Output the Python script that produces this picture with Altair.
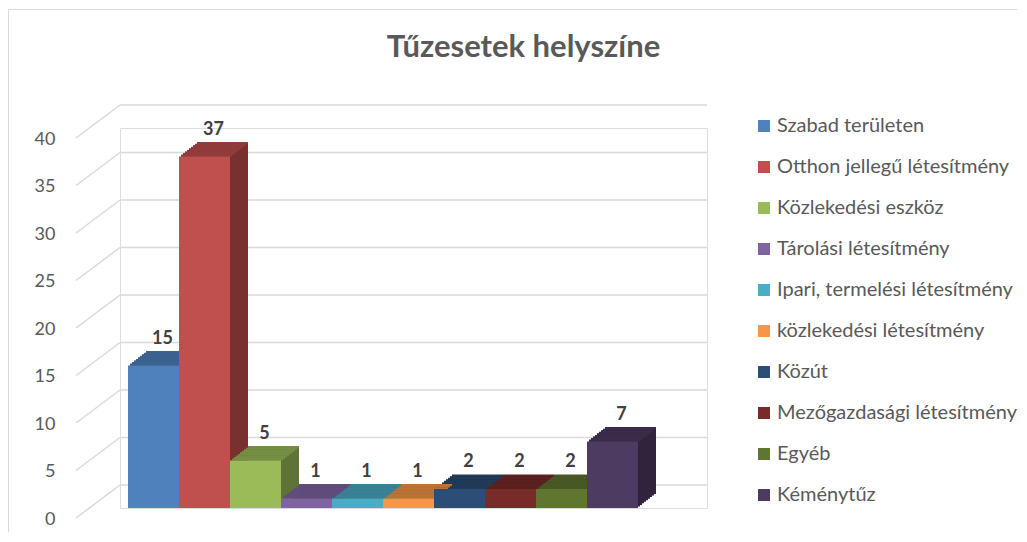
import altair as alt
import pandas as pd

categories = [
    "Szabad területen",
    "Otthon jellegű létesítmény",
    "Közlekedési eszköz",
    "Tárolási létesítmény",
    "Ipari, termelési létesítmény",
    "közlekedési létesítmény",
    "Közút",
    "Mezőgazdasági létesítmény",
    "Egyéb",
    "Kéménytűz",
]
values = [15, 37, 5, 1, 1, 1, 2, 2, 2, 7]
y_ticks = [0, 5, 10, 15, 20, 25, 30, 35, 40]
title_text = "Tűzesetek helyszíne"

front_colors = ["#4F81BD", "#C0504D", "#9BBB59", "#8064A2", "#4BACC6",
                "#F79646", "#2C4D75", "#772C2A", "#5F7530", "#4D3B62"]


def shade(hx, f):
    r, g, b = int(hx[1:3], 16), int(hx[3:5], 16), int(hx[5:7], 16)
    return "#%02X%02X%02X" % (int(r * f), int(g * f), int(b * f))


top_colors = [shade(c, 0.76) for c in front_colors]
side_colors = [shade(c, 0.62) for c in front_colors]

df = pd.DataFrame({"kategoria": categories, "ertek": values})
grid_df = pd.DataFrame({"v": y_ticks})

W, H = 587, 380
DX, DY, N = 18.0, 14.0, 9
FONT = "Lato"
GRID = "#D9D9D9"

xenc = alt.X("kategoria:N", sort=categories,
             scale=alt.Scale(paddingInner=0, paddingOuter=0.755, align=0.104),
             axis=None)
yscale = alt.Scale(domain=[0, 40], nice=False, zero=True)
yaxis = alt.Axis(values=y_ticks, grid=False, domain=False, ticks=False, labelPadding=65,
                 labelOffset=11, labelFont=FONT, labelFontSize=18, labelColor="#595959",
                 title=None)


def yenc(field):
    return alt.Y(field, scale=yscale, axis=yaxis)


layers = []

# outer chart frame (left and top edges; right and bottom lie outside the picture)
frame_top = alt.Chart(grid_df).mark_rule(color=GRID, strokeWidth=1).encode(
    x=alt.value(-112), x2=alt.value(W + 310), y=alt.value(-118.5)
)
frame_left = alt.Chart(grid_df).mark_rule(color=GRID, strokeWidth=1).encode(
    x=alt.value(-112), y=alt.value(-118.5), y2=alt.value(H + 24)
)
layers += [frame_top, frame_left]

# back wall gridlines
back = alt.Chart(grid_df).mark_rule(color=GRID, strokeWidth=1.5, yOffset=-23).encode(
    y=yenc("v:Q"), x=alt.value(0), x2=alt.value(W)
)
layers.append(back)

# side wall gridlines (perspective diagonals)
diag = alt.Chart(grid_df).mark_rule(color=GRID, strokeWidth=1.5, yOffset=10, y2Offset=-23).encode(
    y=yenc("v:Q"), y2="v:Q", x=alt.value(-44), x2=alt.value(0)
)
layers.append(diag)

# side faces (staircase of shifted bars)
for k in range(1, N + 1):
    ox, oy = DX * k / N, -DY * k / N
    layers.append(
        alt.Chart(df).mark_bar(xOffset=ox, x2Offset=ox, yOffset=oy, y2Offset=oy).encode(
            x=xenc,
            y=yenc("ertek:Q"),
            color=alt.Color("kategoria:N", scale=alt.Scale(domain=categories, range=side_colors), legend=None),
        )
    )

# top faces
for k in range(1, N + 1):
    ox = DX * k / N
    layers.append(
        alt.Chart(df).mark_bar(xOffset=ox, x2Offset=ox, yOffset=-DY * k / N - 0.4,
                               y2Offset=-DY * (k - 1) / N).encode(
            x=xenc,
            y=yenc("ertek:Q"),
            y2="ertek:Q",
            color=alt.Color("kategoria:N", scale=alt.Scale(domain=categories, range=top_colors), legend=None),
        )
    )

# front faces
front = alt.Chart(df).mark_bar().encode(
    x=xenc,
    y=yenc("ertek:Q"),
    color=alt.Color("kategoria:N", scale=alt.Scale(domain=categories, range=front_colors),
                    legend=alt.Legend(orient="none", legendX=634, legendY=-12, title=None,
                                      symbolType="square", symbolSize=144, symbolStrokeWidth=0,
                                      labelFont=FONT, labelFontSize=20, labelColor="#595959",
                                      rowPadding=21, labelOffset=3, padding=0, labelLimit=400)),
)
layers.append(front)

labels = alt.Chart(df).mark_text(font=FONT, fontSize=18, fontWeight="bold", color="#404040",
                                 baseline="middle", xOffset=9, yOffset=-27).encode(
    x=xenc, y=yenc("ertek:Q"), text="ertek:Q"
)
layers.append(labels)

chart = alt.layer(*layers).resolve_scale(color="independent").properties(
    width=W, height=H,
    autosize=alt.AutoSizeParams(type="none"),
    padding={"left": 112, "top": 120, "right": 312, "bottom": 24},
    title=alt.TitleParams(title_text, font=FONT, fontSize=31, fontWeight="bold", color="#595959",
                          anchor="middle", dx=110, offset=0, dy=79, baseline="alphabetic"),
).configure_view(stroke=None).configure(font=FONT)

chart.save("out.html", embed_options={"renderer": "svg", "actions": False})
